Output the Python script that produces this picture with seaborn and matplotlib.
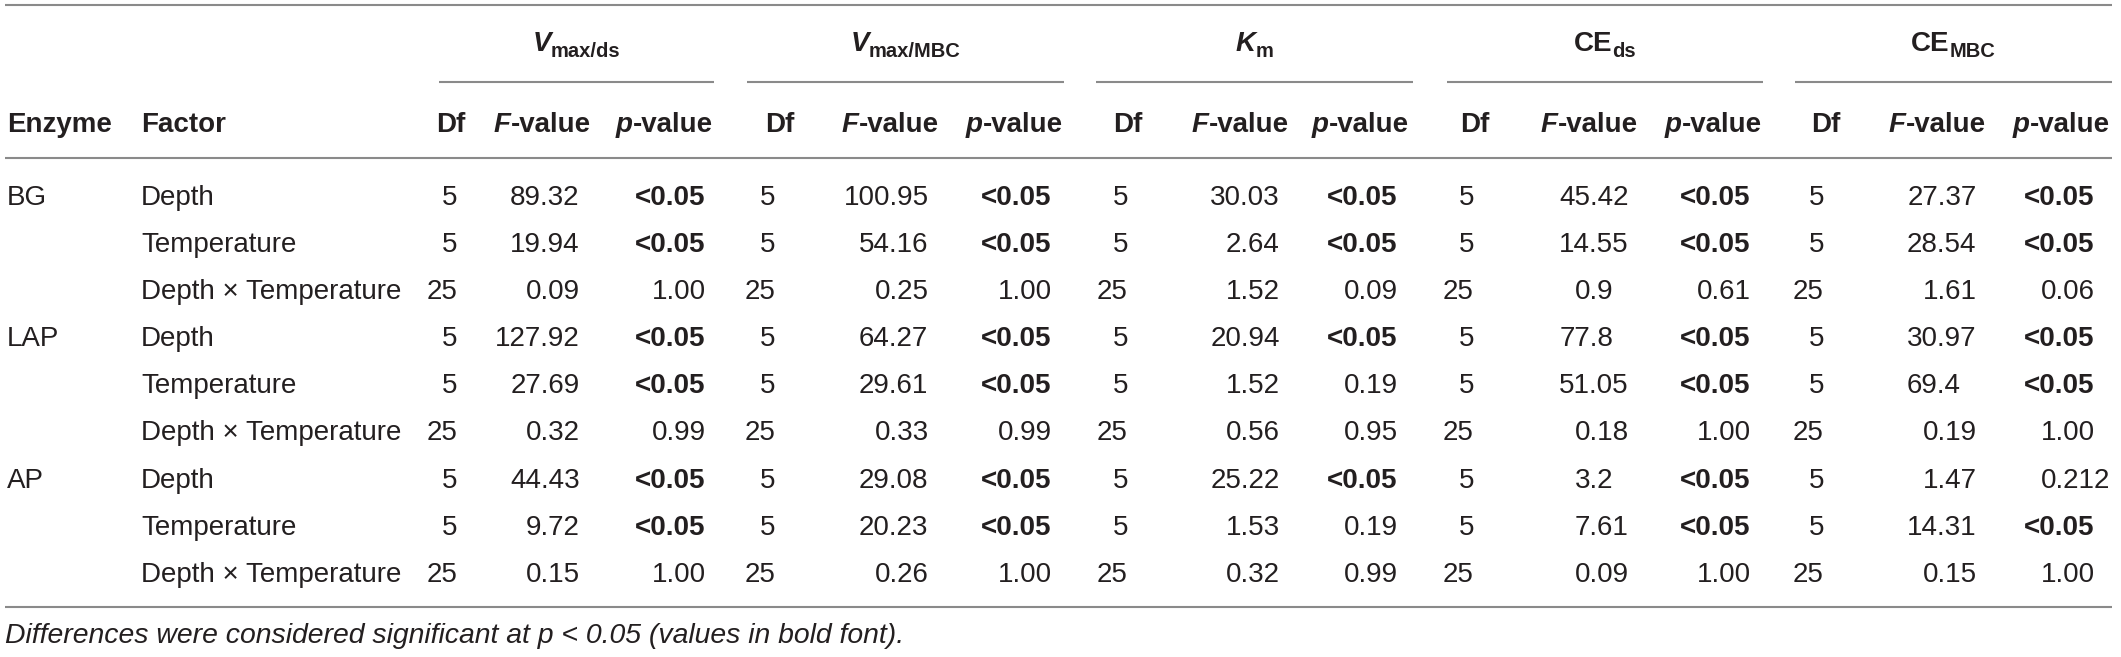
import matplotlib
matplotlib.use("Agg")
import matplotlib.pyplot as plt
import seaborn as sns
import pandas as pd

# ---------------- data ----------------
enzymes = ["BG", "LAP", "AP"]
factors = ["Depth", "Temperature", "Depth \u00d7 Temperature"]
df_values = ["5", "5", "25", "5", "5", "25", "5", "5", "25"]

vmax_ds_F = ["89.32", "19.94", "0.09", "127.92", "27.69", "0.32", "44.43", "9.72", "0.15"]
vmax_ds_p = ["<0.05", "<0.05", "1.00", "<0.05", "<0.05", "0.99", "<0.05", "<0.05", "1.00"]
vmax_mbc_F = ["100.95", "54.16", "0.25", "64.27", "29.61", "0.33", "29.08", "20.23", "0.26"]
vmax_mbc_p = ["<0.05", "<0.05", "1.00", "<0.05", "<0.05", "0.99", "<0.05", "<0.05", "1.00"]
km_F = ["30.03", "2.64", "1.52", "20.94", "1.52", "0.56", "25.22", "1.53", "0.32"]
km_p = ["<0.05", "<0.05", "0.09", "<0.05", "0.19", "0.95", "<0.05", "0.19", "0.99"]
ce_ds_F = ["45.42", "14.55", "0.9", "77.8", "51.05", "0.18", "3.2", "7.61", "0.09"]
ce_ds_p = ["<0.05", "<0.05", "0.61", "<0.05", "<0.05", "1.00", "<0.05", "<0.05", "1.00"]
ce_mbc_F = ["27.37", "28.54", "1.61", "30.97", "69.4", "0.19", "1.47", "14.31", "0.15"]
ce_mbc_p = ["<0.05", "<0.05", "0.06", "<0.05", "<0.05", "1.00", "0.212", "<0.05", "1.00"]

group_labels = [("V", "max/ds"), ("V", "max/MBC"), ("K", "m"), ("CE", "ds"), ("CE", "MBC")]
footnote = "Differences were considered significant at p < 0.05 (values in bold font)."

groups = [(vmax_ds_F, vmax_ds_p), (vmax_mbc_F, vmax_mbc_p), (km_F, km_p),
          (ce_ds_F, ce_ds_p), (ce_mbc_F, ce_mbc_p)]

table = pd.DataFrame({
    "enzyme": [e if i % 3 == 0 else "" for i, e in enumerate([e for e in enzymes for _ in range(3)])],
    "factor": factors * 3,
    "df": df_values,
})

# ---------------- style ----------------
sns.set_theme(style="white")
plt.rcParams["font.family"] = ["Liberation Sans", "DejaVu Sans"]
TXT = "#231f20"
RULE = "#8a8a8a"
FS = 20
SUB = 14.5

W, H = 2121, 657
fig = plt.figure(figsize=(W / 100, H / 100), dpi=100)
fig.patch.set_facecolor("white")
ax = fig.add_axes([0, 0, 1, 1])
ax.set_xlim(0, W)
ax.set_ylim(H, 0)
ax.axis("off")
renderer = fig.canvas.get_renderer()


def text_width(s, **kw):
    t = ax.text(0, 0, s, **kw)
    w = t.get_window_extent(renderer).width
    t.remove()
    return w


def draw_parts(x, y, parts, ha="center"):
    widths = [text_width(s, **kw) for s, kw, dy in parts]
    total = sum(widths)
    cur = x - total / 2 if ha == "center" else (x - total if ha == "right" else x)
    for (s, kw, dy), w in zip(parts, widths):
        ax.text(cur, y + dy, s, ha="left", va="baseline", color=TXT, **kw)
        cur += w


def draw_decimal(xdec, y, s, **kw):
    head = s.split(".")[0] if "." in s else s
    off = text_width(head, **kw)
    ax.text(xdec - off, y, s, ha="left", va="baseline", color=TXT, **kw)


# ---------------- layout ----------------
rule_x0, rule_x1 = 5, 2112
y_top, y_sub, y_hdr, y_bot = 5, 82, 158, 607
y_group_base, y_col_base = 51, 132
row_centers = [195 + i * 47.1 for i in range(9)]
x_enz, x_fac = 7, 141
df_right = [457, 775, 1128, 1474, 1824]
f_dec = [541, 890, 1241, 1590, 1938]
p_dec = [667, 1013, 1359, 1712, 2056]
hdr_df = [451, 780, 1128, 1475, 1826]
hdr_f = [542, 890, 1240, 1589, 1937]
hdr_p = [664, 1014, 1360, 1713, 2061]
spans = [(439, 714), (747, 1064), (1096, 1413), (1447, 1763), (1795, 2112)]

# rules
for yy in (y_top, y_hdr, y_bot):
    ax.hlines(yy, rule_x0, rule_x1, color=RULE, lw=1.5)
for a, b in spans:
    ax.hlines(y_sub, a, b, color=RULE, lw=1.5)

bold = dict(fontsize=FS, fontweight="bold")
bolditalic = dict(fontsize=FS, fontweight="bold", fontstyle="italic")
subk = dict(fontsize=SUB, fontweight="bold")
reg = dict(fontsize=FS)

# group headers
for (main, sub), (a, b) in zip(group_labels, spans):
    mk = bolditalic if main in ("V", "K") else bold
    draw_parts((a + b) / 2, y_group_base, [(main, mk, 0), (sub, subk, 6)])

# column headers
ax.text(x_enz, y_col_base, "Enzyme", ha="left", va="baseline", color=TXT, **bold)
ax.text(x_fac, y_col_base, "Factor", ha="left", va="baseline", color=TXT, **bold)
for g in range(5):
    draw_parts(hdr_df[g], y_col_base, [("Df", bold, 0)])
    draw_parts(hdr_f[g], y_col_base, [("F", bolditalic, 0), ("-value", bold, 0)])
    draw_parts(hdr_p[g], y_col_base, [("p", bolditalic, 0), ("-value", bold, 0)])

# body
for i, row in table.iterrows():
    yb = row_centers[i] + 10
    if row["enzyme"]:
        ax.text(x_enz, yb, row["enzyme"], ha="left", va="baseline", color=TXT, **reg)
    ax.text(x_fac, yb, row["factor"], ha="left", va="baseline", color=TXT, **reg)
    for g, (Fv, pv) in enumerate(groups):
        ax.text(df_right[g], yb, row["df"], ha="right", va="baseline", color=TXT, **reg)
        draw_decimal(f_dec[g], yb, Fv[i], **reg)
        pk = bold if pv[i].startswith("<") else reg
        draw_decimal(p_dec[g], yb, pv[i], **pk)

# footnote
ax.text(5, 643, footnote, ha="left", va="baseline", color=TXT, fontsize=20.4,
        fontstyle="italic")

fig.savefig("out.png", dpi=100, facecolor="white")
